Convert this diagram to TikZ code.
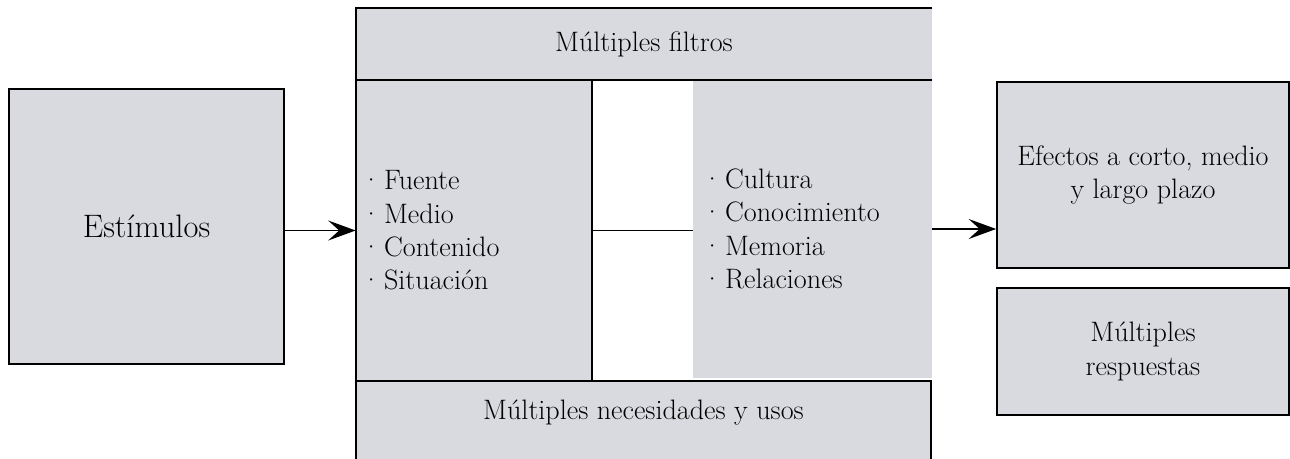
\documentclass[tikz,border=0pt]{standalone}
\usetikzlibrary{arrows.meta}

\definecolor{boxgray}{RGB}{217,218,223}

\tikzset{
  graybox/.style={fill=boxgray, draw=black, line width=1pt, align=center, inner sep=0pt},
  panel/.style={fill=boxgray, draw=none, inner sep=0pt},
  flecha/.style={-{Stealth[length=0.55cm,width=0.4cm,inset=0.22cm]}, line width=1pt},
  txt/.style={font=\fontsize{16}{19}\selectfont}
}
\newcommand{\punto}{·\hspace{0.1em}}

\begin{document}
\begin{tikzpicture}[x=0.02cm, y=-0.02cm]
  \useasboundingbox (0,0) rectangle (1290,459);

  % Estimulos
  \node[graybox, minimum width=5.5cm, minimum height=5.5cm,
        font=\fontsize{18.5}{22}\selectfont] (estimulos) at (146.5,226.5) {Estímulos};

  % Filtros: top, both panels, bottom
  \node[panel, txt, minimum width=11.52cm, minimum height=1.44cm] (filtros) at (644,44) {Múltiples filtros};
  \node[panel, txt, minimum width=4.72cm, minimum height=6.02cm, text width=4.52cm, align=left]
    (fuentes) at (474,230.5) {\punto Fuente\\ \punto Medio\\ \punto Contenido\\ \punto Situación};
  \node[panel, txt, minimum width=4.78cm, minimum height=5.96cm, text width=4.42cm, align=left]
    (cultura) at (812.5,229) {\punto Cultura\\ \punto Conocimiento\\ \punto Memoria\\ \punto Relaciones};
  \node[panel, txt, anchor=north, minimum width=11.5cm, text height=0.76cm, text depth=0.9cm]
    (necesidades) at (643.5,381) {Múltiples necesidades y usos};

  % Efectos y respuestas
  \node[graybox, txt, minimum width=5.84cm, minimum height=3.72cm] (efectos) at (1143,175)
    {Efectos a corto, medio\\ y largo plazo};
  \node[graybox, txt, minimum width=5.84cm, minimum height=2.54cm] (respuestas) at (1143,351.5)
    {Múltiples\\ respuestas};

  % Borders of the filter block
  \draw[line width=1pt] (filtros.north east) -- (filtros.north west) -- (necesidades.south west);
  \draw[line width=1pt] (filtros.south west) -- (filtros.south east);
  \draw[line width=1pt] (fuentes.north east) -- (fuentes.south east);
  \draw[line width=1pt] (necesidades.north west) -- (necesidades.north east) -- (necesidades.south east);
  \draw[line width=1pt] (fuentes.east) -- (fuentes.east -| cultura.west);

  % Arrows
  \draw[flecha] (estimulos.east |- fuentes.west) -- (fuentes.west);
  \draw[flecha] (cultura.east) -- (cultura.east -| efectos.west);
\end{tikzpicture}
\end{document}
